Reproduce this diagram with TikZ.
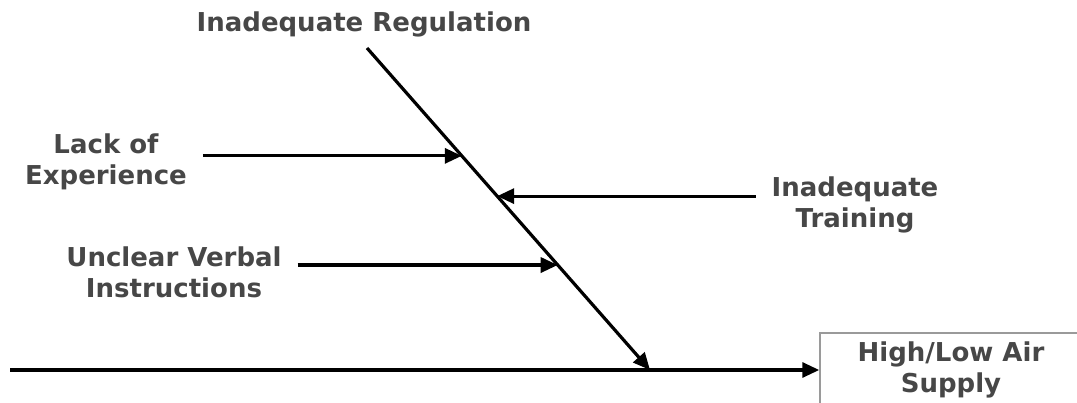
\documentclass[tikz,border=0pt]{standalone}
\usepackage{fontspec}
\setmainfont{DejaVu Sans}
\usetikzlibrary{arrows.meta, positioning}
\definecolor{labelgray}{HTML}{474747}
\definecolor{boxgray}{HTML}{9A9A9A}
\tikzset{
  cause/.style={align=center, text=labelgray, inner sep=1pt, outer xsep=15pt,
    font=\fontsize{26}{31}\selectfont\bfseries},
  effect/.style={rectangle, draw=boxgray, line width=1.5pt, align=center, text=labelgray,
    minimum width=262pt, minimum height=74pt, font=\fontsize{26}{31}\selectfont\bfseries},
  line/.style={line width=3.2pt, -{Triangle[length=17pt, width=15pt]}}
}

\begin{document}
\begin{tikzpicture}[x=1pt, y=-1pt]
    \useasboundingbox (0,0) rectangle (1077,403);
    \node[cause] (reg) at (364,24) {Inadequate Regulation};
    \node[cause] (lack) at (106,162) {Lack of\\Experience};
    \node[cause] (train) at (855,205) {Inadequate\\Training};
    \node[cause] (verbal) at (174,272) {Unclear Verbal\\Instructions};
    \node[effect] (supply) at (951,370) {High/Low Air\\Supply};
    \coordinate (tail) at (10,370);
    \coordinate (spine) at (367,48);
    \coordinate (joint) at (650,370);
    \path (spine) -- (joint)
      coordinate[pos=0.335] (c1)
      coordinate[pos=0.46] (c2)
      coordinate[pos=0.674] (c3);
    \draw[line] (tail) -- (supply);
    \draw[line] (spine) -- (joint);
    \draw[line] (lack.east |- c1) -- (c1);
    \draw[line] (train.west |- c2) -- (c2);
    \draw[line] (verbal.east |- c3) -- (c3);
  \end{tikzpicture}
\end{document}
